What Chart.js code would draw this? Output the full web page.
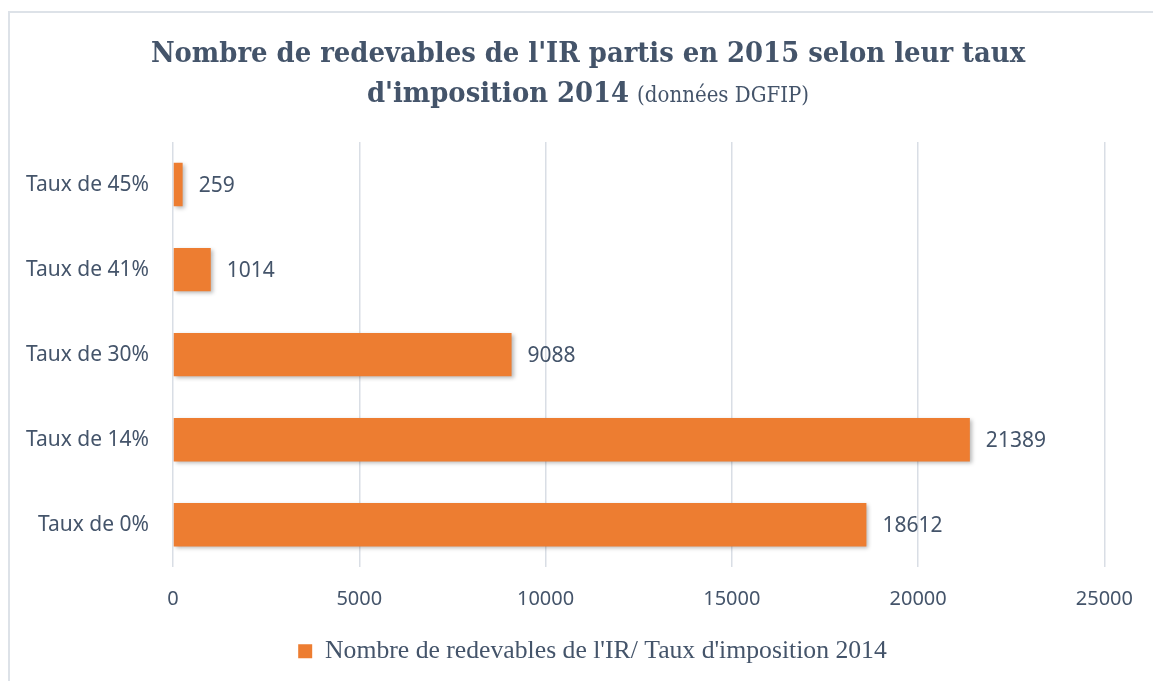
<!DOCTYPE html>
<html>
<head>
<meta charset="utf-8">
<script src="https://cdn.jsdelivr.net/npm/chart.js@4"></script>
<style>
  html, body { margin: 0; padding: 0; background: #ffffff; }
  #wrap { width: 1153px; height: 681px; position: relative; }
</style>
</head>
<body>
<div id="wrap"><canvas id="chart" width="1153" height="681"></canvas></div>
<script>
// Data
const categories = ["Taux de 45%", "Taux de 41%", "Taux de 30%", "Taux de 14%", "Taux de 0%"];
const redevables = [259, 1014, 9088, 21389, 18612];
const xTicks = [0, 5000, 10000, 15000, 20000, 25000];

const seriesLabel = "Nombre de redevables de l'IR/ Taux d'imposition 2014";
const titleLine1 = "Nombre de redevables de l'IR partis en 2015 selon leur taux";
const titleLine2Bold = "d'imposition 2014";
const titleLine2Small = "(données DGFIP)";

const textColor = "#44546A";
const barColor = "#ED7D31";
const gridColor = "#D9DEE5";
const sansFont = "'Noto Sans', 'Open Sans', sans-serif";
const titleFont = "'DejaVu Serif Condensed', 'DejaVu Serif', serif";
const serifFont = "'Liberation Serif', 'DejaVu Serif', serif";

// pick a font size so that a text gets the wanted width
const measureCtx = document.createElement("canvas").getContext("2d");
function fitSize(text, weight, family, base, target) {
  measureCtx.font = weight + " " + base + "px " + family;
  const w = measureCtx.measureText(text).width;
  return Math.round(base * target / w * 10) / 10;
}

const titleSize = fitSize(titleLine1, "bold", titleFont, 28, 875);
const titleSmallSize = fitSize(titleLine2Small, "normal", titleFont, 20, 172);
const legendSize = fitSize(seriesLabel, "normal", serifFont, 23, 561);

// frame around the chart (like the office chart border)
const framePlugin = {
  id: "frame",
  beforeDraw(chart) {
    const ctx = chart.ctx;
    ctx.save();
    ctx.strokeStyle = "#DDE2E8";
    ctx.lineWidth = 2;
    ctx.strokeRect(9, 12, 1200, 700);
    ctx.restore();
  }
};

// legend sits centred on the whole frame, not on the padded box
const legendShift = {
  id: "legendShift",
  afterLayout(chart) {
    if (chart.legend) {
      chart.legend.left += 35;
      chart.legend.right += 35;
    }
  }
};

// two-line title with mixed fonts
const titlePlugin = {
  id: "mixedTitle",
  afterDraw(chart) {
    const ctx = chart.ctx;
    const cx = 588;
    ctx.save();
    ctx.fillStyle = textColor;
    ctx.textBaseline = "alphabetic";
    ctx.textAlign = "left";

    ctx.font = "bold " + titleSize + "px " + titleFont;
    const w1 = ctx.measureText(titleLine1).width;
    ctx.fillText(titleLine1, cx - w1 / 2, 62);

    const wb = ctx.measureText(titleLine2Bold).width;
    ctx.font = titleSmallSize + "px " + titleFont;
    const ws = ctx.measureText(titleLine2Small).width;
    const gap = 8;
    let x = cx - (wb + gap + ws) / 2;
    ctx.font = "bold " + titleSize + "px " + titleFont;
    ctx.fillText(titleLine2Bold, x, 102);
    ctx.font = titleSmallSize + "px " + titleFont;
    ctx.fillText(titleLine2Small, x + wb + gap, 102);
    ctx.restore();
  }
};

// soft shadow under the bars
const shadowPlugin = {
  id: "barShadow",
  beforeDatasetDraw(chart) {
    const ctx = chart.ctx;
    ctx.save();
    ctx.shadowColor = "rgba(0,0,0,0.28)";
    ctx.shadowBlur = 4;
    ctx.shadowOffsetX = 2;
    ctx.shadowOffsetY = 2;
  },
  afterDatasetDraw(chart) {
    chart.ctx.restore();
  }
};

// value labels at bar ends
const valueLabels = {
  id: "valueLabels",
  afterDatasetsDraw(chart) {
    const ctx = chart.ctx;
    const meta = chart.getDatasetMeta(0);
    ctx.save();
    ctx.fillStyle = textColor;
    ctx.font = "21px " + sansFont;
    ctx.textAlign = "left";
    ctx.textBaseline = "middle";
    meta.data.forEach((bar, i) => {
      ctx.fillText(String(redevables[i]), bar.x + 16, bar.y + 1);
    });
    ctx.restore();
  }
};

const ctx = document.getElementById("chart").getContext("2d");

const chart = new Chart(ctx, {
  type: "bar",
  data: {
    labels: categories,
    datasets: [{
      label: seriesLabel,
      data: redevables,
      backgroundColor: barColor,
      borderWidth: 0,
      categoryPercentage: 1,
      barPercentage: 0.51
    }]
  },
  options: {
    indexAxis: "y",
    responsive: false,
    animation: false,
    layout: {
      padding: { top: 142, right: 38, bottom: 7, left: 0 }
    },
    scales: {
      x: {
        min: 0,
        max: 25000,
        afterBuildTicks(scale) {
          scale.ticks = xTicks.map(v => ({ value: v }));
        },
        afterFit(scale) {
          scale.height = 61;
        },
        grid: { color: gridColor, lineWidth: 1.5, drawTicks: false },
        border: { display: false },
        ticks: {
          color: textColor,
          font: { family: sansFont, size: 20 },
          padding: 20,
          maxRotation: 0,
          callback: (v) => String(v)
        }
      },
      y: {
        afterFit(scale) {
          scale.width = 173;
        },
        grid: { display: false, drawTicks: false },
        border: { display: false },
        ticks: {
          color: textColor,
          font: { family: sansFont, size: 21 },
          padding: 24
        }
      }
    },
    plugins: {
      title: { display: false },
      tooltip: { enabled: false },
      legend: {
        position: "bottom",
        labels: {
          color: textColor,
          font: { family: serifFont, size: legendSize },
          boxWidth: 14,
          boxHeight: 14,
          padding: 10
        }
      }
    }
  },
  plugins: [framePlugin, legendShift, shadowPlugin, valueLabels, titlePlugin]
});
</script>
</body>
</html>
